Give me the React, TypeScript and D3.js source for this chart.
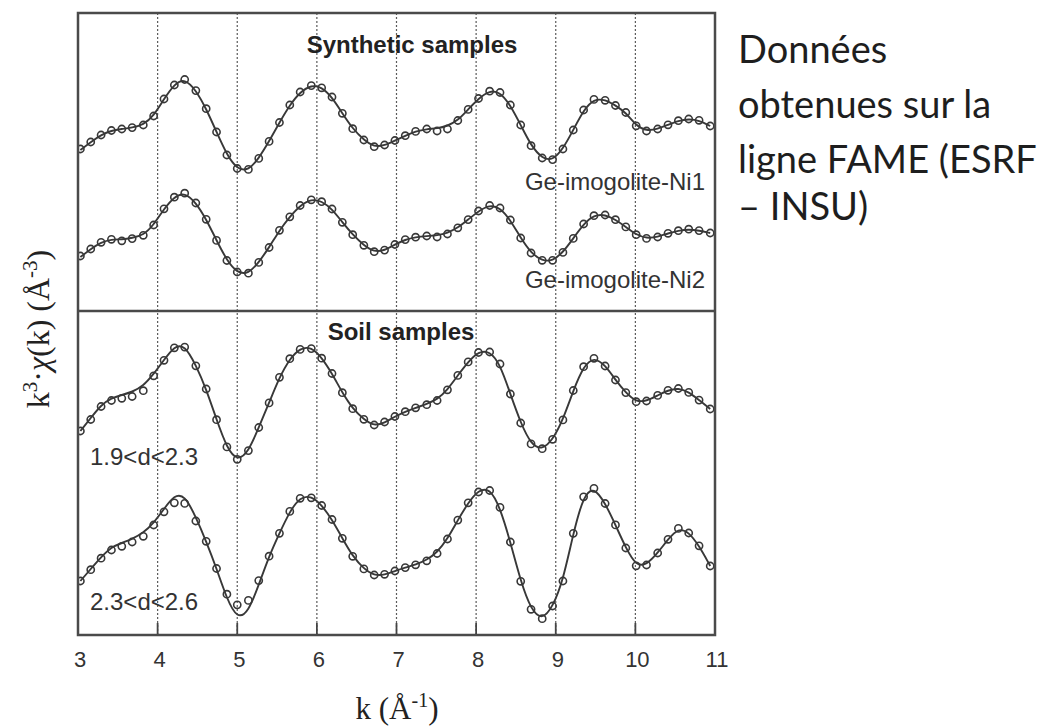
import React from 'react';
import * as d3 from 'd3';

// k grid of the measured points (Å^-1)
const kValues = [
  3.03, 3.16, 3.29, 3.42, 3.55, 3.68, 3.82, 3.95, 4.08, 4.21,
  4.34, 4.48, 4.61, 4.74, 4.87, 5.0, 5.14, 5.27, 5.4, 5.53,
  5.66, 5.79, 5.93, 6.06, 6.19, 6.32, 6.45, 6.59, 6.72, 6.85,
  6.98, 7.11, 7.24, 7.38, 7.51, 7.64, 7.77, 7.9, 8.03, 8.17,
  8.3, 8.43, 8.56, 8.69, 8.83, 8.96, 9.09, 9.22, 9.35, 9.48,
  9.62, 9.75, 9.88, 10.01, 10.14, 10.28, 10.41, 10.54, 10.67, 10.8,
  10.94,
];

// Ge-imogolite-Ni1
const ni1Data = [
  -2.0, -1.3, -0.6, -0.15, 0.0, 0.14, 0.4, 1.3, 3.0, 4.4,
  4.95, 3.84, 2.03, -0.3, -2.6, -3.95, -4.04, -2.94, -1.24, 0.65,
  2.4, 3.7, 4.34, 4.12, 3.2, 1.57, 0.03, -1.1, -1.77, -1.6,
  -1.15, -0.67, -0.24, 0.0, -0.2, 0.0, 0.85, 1.96, 3.05, 3.78,
  3.65, 2.4, 0.4, -1.67, -2.9, -3.06, -2.0, -0.1, 1.9, 2.96,
  2.87, 2.35, 1.65, 0.32, -0.2, 0.0, 0.42, 0.83, 1.0, 0.87,
  0.3,
];
const ni1Fit = [
  -2.1, -1.3, -0.6, -0.15, 0.0, 0.14, 0.4, 1.3, 3.0, 4.5,
  5.05, 3.9, 2.03, -0.3, -2.6, -4.05, -4.15, -2.94, -1.24, 0.65,
  2.4, 3.7, 4.4, 4.2, 3.2, 1.57, 0.03, -1.1, -1.8, -1.65,
  -1.15, -0.67, -0.24, 0.0, 0.05, 0.3, 0.85, 1.96, 3.05, 3.85,
  3.7, 2.4, 0.4, -1.67, -2.95, -3.15, -2.0, -0.1, 1.9, 3.0,
  2.95, 2.35, 1.65, 0.32, -0.2, 0.0, 0.42, 0.83, 1.0, 0.87,
  0.3,
];

// Ge-imogolite-Ni2
const ni2Data = [
  -2.0, -1.3, -0.63, -0.33, -0.48, -0.26, 0.07, 1.1, 2.72, 3.88,
  4.28, 3.3, 1.67, -0.44, -2.45, -3.6, -3.72, -2.64, -1.15, 0.57,
  1.92, 3.05, 3.62, 3.43, 2.7, 1.37, 0.13, -0.93, -1.57, -1.41,
  -0.85, -0.36, -0.12, 0.0, -0.1, 0.2, 0.82, 1.64, 2.5, 3.05,
  2.8, 1.6, -0.2, -1.7, -2.43, -2.43, -1.64, -0.24, 1.2, 2.03,
  2.1, 1.63, 0.91, 0.13, -0.24, -0.1, 0.27, 0.53, 0.68, 0.54,
  0.3,
];
const ni2Fit = [
  -2.1, -1.3, -0.63, -0.33, -0.35, -0.2, 0.07, 1.1, 2.72, 3.95,
  4.35, 3.35, 1.67, -0.44, -2.45, -3.7, -3.8, -2.64, -1.15, 0.57,
  1.92, 3.05, 3.7, 3.5, 2.7, 1.37, 0.13, -0.93, -1.6, -1.45,
  -0.85, -0.36, -0.12, 0.0, 0.05, 0.3, 0.82, 1.64, 2.5, 3.1,
  2.85, 1.6, -0.2, -1.7, -2.5, -2.5, -1.64, -0.24, 1.2, 2.1,
  2.15, 1.63, 0.91, 0.13, -0.24, -0.1, 0.27, 0.53, 0.68, 0.54,
  0.3,
];

// soil 1.9<d<2.3
const soil1Data = [
  -3.0, -1.85, -0.55, 0.05, 0.27, 0.45, 1.03, 2.52, 4.07, 5.32,
  5.39, 3.52, 1.2, -1.87, -4.59, -5.83, -4.96, -2.65, -0.19, 2.37,
  4.23, 5.16, 5.24, 4.28, 2.75, 0.83, -0.77, -1.83, -2.4, -2.1,
  -1.55, -1.07, -0.68, -0.37, 0.05, 1.12, 2.56, 3.91, 4.85, 4.9,
  3.7, 0.7, -2.2, -4.29, -4.77, -3.83, -1.89, 1.05, 3.43, 4.27,
  3.5, 2.1, 0.84, -0.07, 0.0, 0.56, 1.07, 1.25, 0.86, 0.09,
  -0.8,
];
const soil1Fit = [
  -3.0, -1.7, -0.4, 0.3, 0.6, 0.9, 1.5, 2.7, 4.1, 5.5,
  5.6, 3.6, 1.2, -1.87, -4.7, -6.0, -5.1, -2.65, -0.19, 2.37,
  4.23, 5.3, 5.4, 4.35, 2.75, 0.83, -0.77, -1.83, -2.5, -2.2,
  -1.55, -1.07, -0.68, -0.3, 0.15, 1.12, 2.56, 3.91, 4.95, 5.0,
  3.7, 0.7, -2.2, -4.35, -4.9, -3.9, -1.89, 1.05, 3.5, 4.4,
  3.6, 2.1, 0.84, -0.1, 0.0, 0.56, 1.07, 1.3, 0.9, 0.09,
  -0.8,
];

// soil 2.3<d<2.6
const soil2Data = [
  -2.5, -1.37, -0.22, 0.6, 0.97, 1.4, 1.97, 3.1, 4.42, 5.32,
  5.26, 3.5, 1.47, -1.25, -3.82, -4.88, -4.44, -2.46, -0.02, 2.27,
  4.46, 5.77, 5.82, 5.05, 3.65, 1.77, -0.03, -1.29, -1.9, -1.83,
  -1.5, -1.16, -0.88, -0.48, 0.25, 1.7, 3.59, 5.32, 6.4, 6.55,
  4.86, 1.4, -2.53, -5.33, -6.27, -5.0, -2.5, 2.27, 5.92, 6.77,
  5.25, 3.11, 0.8, -0.98, -0.9, 0.3, 1.67, 2.76, 2.3, 1.02,
  -1.0,
];
const soil2Fit = [
  -2.5, -1.3, -0.1, 0.9, 1.3, 1.7, 2.3, 3.3, 4.7, 6.1,
  6.1, 3.9, 1.47, -1.25, -4.3, -6.3, -5.6, -2.9, -0.02, 2.27,
  4.46, 5.9, 6.0, 5.1, 3.65, 1.77, -0.03, -1.29, -1.95, -1.9,
  -1.5, -1.16, -0.88, -0.4, 0.35, 1.7, 3.59, 5.32, 6.6, 6.8,
  4.86, 1.4, -2.53, -5.4, -6.4, -5.1, -2.5, 2.27, 6.1, 6.9,
  5.3, 3.11, 0.8, -0.98, -0.9, 0.3, 1.67, 2.8, 2.4, 1.02,
  -1.0,
];

// vertical offsets of each stacked spectrum
const offsets = [50.6, 39.9, 23.4, 7.9];
const panelSplit = 32.4;

const xTicks = [3, 4, 5, 6, 7, 8, 9, 10, 11];
const gridK = [4, 5, 6, 7, 8, 9, 10];

const rightText = ['Données', 'obtenues sur la', 'ligne FAME (ESRF', '– INSU)'];
const rightBaselines = [63, 118, 173, 220];

const spectra = [
  { data: ni1Data, fit: ni1Fit, offset: offsets[0] },
  { data: ni2Data, fit: ni2Fit, offset: offsets[1] },
  { data: soil1Data, fit: soil1Fit, offset: offsets[2] },
  { data: soil2Data, fit: soil2Fit, offset: offsets[3] },
];

export default function App() {
  const W = 1046;
  const H = 726;
  const left = 78, right = 715, top = 13, bottom = 635;

  const x = d3.scaleLinear().domain([3, 11]).range([left, right]);
  const y = d3.scaleLinear().domain([0, 62.2]).range([bottom, top]);

  const ink = '#383838';
  const sans = 'Liberation Sans, Arial, sans-serif';
  const serif = 'Liberation Serif, Times New Roman, serif';

  return (
    <svg width={W} height={H} style={{ position: 'absolute', left: 0, top: 0, background: '#fff' }}>
      <defs>
        <clipPath id="plot">
          <rect x={left} y={top} width={right - left} height={bottom - top} />
        </clipPath>
      </defs>

      {/* dotted grid */}
      {gridK.map((k) => (
        <line key={'g' + k} x1={x(k)} x2={x(k)} y1={top} y2={bottom}
          stroke="#5a5a5a" strokeWidth={1.2} strokeDasharray="2,2" />
      ))}

      {/* ticks on bottom */}
      {gridK.map((k) => (
        <line key={'t' + k} x1={x(k)} x2={x(k)} y1={bottom} y2={bottom - 12}
          stroke="#444" strokeWidth={1.8} />
      ))}

      {/* spectra */}
      <g clipPath="url(#plot)">
        {spectra.map((s, si) => {
          const line = d3.line<number>()
            .x((_, i) => x(kValues[i]))
            .y((v) => y(v + s.offset))
            .curve(d3.curveBasis);
          return (
            <g key={'s' + si}>
              <path d={line(s.fit) || ''} fill="none" stroke={ink} strokeWidth={1.9} />
              {s.data.map((v, i) => (
                <circle key={i} cx={x(kValues[i])} cy={y(v + s.offset)} r={3.6}
                  fill="none" stroke={ink} strokeWidth={1.6} />
              ))}
            </g>
          );
        })}
      </g>

      {/* frame and panel divider */}
      <rect x={left} y={top} width={right - left} height={bottom - top}
        fill="none" stroke="#4a4a4a" strokeWidth={2.5} />
      <line x1={left} x2={right} y1={y(panelSplit)} y2={y(panelSplit)} stroke="#4a4a4a" strokeWidth={2.5} />

      {/* panel titles */}
      <text x={412} y={53} textAnchor="middle" fontFamily={sans} fontWeight="bold" fontSize={24} fill="#222">
        Synthetic samples
      </text>
      <text x={401} y={340} textAnchor="middle" fontFamily={sans} fontWeight="bold" fontSize={24} fill="#222">
        Soil samples
      </text>

      {/* sample labels */}
      <text x={705} y={190} textAnchor="end" fontFamily={sans} fontSize={24} fill="#333">Ge-imogolite-Ni1</text>
      <text x={705} y={288} textAnchor="end" fontFamily={sans} fontSize={24} fill="#333">Ge-imogolite-Ni2</text>
      <text x={90} y={465} fontFamily={sans} fontSize={24} fill="#333">1.9&lt;d&lt;2.3</text>
      <text x={90} y={610} fontFamily={sans} fontSize={24} fill="#333">2.3&lt;d&lt;2.6</text>

      {/* x tick labels */}
      {xTicks.map((k) => (
        <text key={'l' + k} x={x(k) + 2} y={667} textAnchor="middle" fontFamily={sans} fontSize={22} fill="#333">
          {k}
        </text>
      ))}

      {/* axis titles */}
      <text x={397} y={719} textAnchor="middle" fontFamily={serif} fontSize={31} fill="#222">
        k (Å<tspan dy={-12} fontSize={20}>-1</tspan><tspan dy={12}>)</tspan>
      </text>
      <text transform="translate(49,329) rotate(-90)" textAnchor="middle" fontFamily={serif} fontSize={32} fill="#222">
        k<tspan dy={-12} fontSize={21}>3</tspan><tspan dy={12}>·</tspan><tspan fontStyle="italic">χ</tspan>(k) (Å<tspan dy={-12} fontSize={21}>-3</tspan><tspan dy={12}>)</tspan>
      </text>

      {/* note on the right */}
      {rightText.map((t, i) => (
        <text key={'r' + i} x={738} y={rightBaselines[i]} fontFamily="Lato, 'Open Sans', sans-serif" fontSize={38} fill="#1e1e1e">
          {t}
        </text>
      ))}
    </svg>
  );
}
